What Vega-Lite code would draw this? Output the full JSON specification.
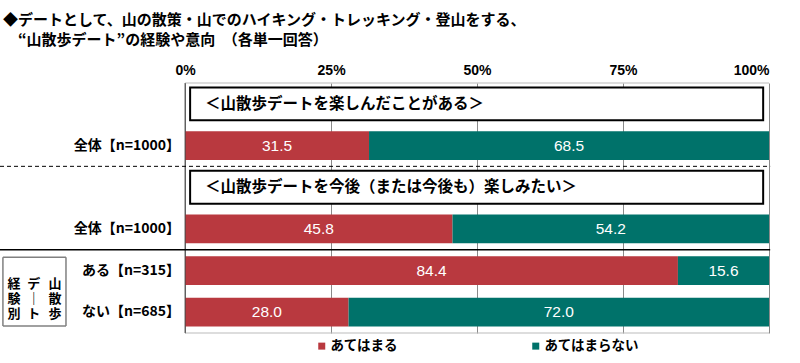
{
  "$schema": "https://vega.github.io/schema/vega-lite/v6.json",
  "autosize": {"type": "none"},
  "padding": {"left": 0, "top": 83, "right": 31, "bottom": 30},
  "width": 769,
  "height": 250,
  "background": "white",
  "title": {
    "text": ["◆デートとして、山の散策・山でのハイキング・トレッキング・登山をする、", "\u200b\u3000“山散歩デート”の経験や意向　（各単一回答）"],
    "anchor": "start",
    "frame": "group",
    "dx": 3,
    "offset": 15,
    "font": "Noto Sans CJK JP",
    "fontSize": 15,
    "fontWeight": "bold",
    "lineHeight": 20,
    "color": "black"
  },
  "datasets": {
    "bars": [
      {"row": "b1", "cat": "あてはまる", "value": 31.5},
      {"row": "b1", "cat": "あてはまらない", "value": 68.5},
      {"row": "b2", "cat": "あてはまる", "value": 45.8},
      {"row": "b2", "cat": "あてはまらない", "value": 54.2},
      {"row": "b3", "cat": "あてはまる", "value": 84.4},
      {"row": "b3", "cat": "あてはまらない", "value": 15.6},
      {"row": "b4", "cat": "あてはまる", "value": 28.0},
      {"row": "b4", "cat": "あてはまらない", "value": 72.0}
    ],
    "rows": [
      {"row": "b1", "label": "全体【n=1000】"},
      {"row": "b2", "label": "全体【n=1000】"},
      {"row": "b3", "label": "ある【n=315】"},
      {"row": "b4", "label": "ない【n=685】"}
    ],
    "headers": [
      {"row": "h1", "text": "＜山散歩デートを楽しんだことがある＞"},
      {"row": "h2", "text": "＜山散歩デートを今後（または今後も）楽しみたい＞"}
    ]
  },
  "layer": [
    {
      "data": {"name": "bars"},
      "mark": {"type": "bar", "height": {"band": 0.69}},
      "encoding": {
        "y": {
          "field": "row", "type": "nominal",
          "scale": {"domain": ["h1", "b1", "h2", "b2", "b3", "b4"], "paddingInner": 0, "paddingOuter": 0},
          "axis": null
        },
        "x": {
          "field": "value", "type": "quantitative", "stack": "zero",
          "scale": {"domain": [-31.7, 100], "nice": false, "zero": false},
          "axis": {
            "orient": "top", "title": null, "values": [0, 25, 50, 75, 100], "labelExpr": "datum.value + '%'",
            "domain": false, "ticks": false, "grid": true, "gridColor": "#8a8a8a", "gridWidth": 1,
            "labelFont": "Liberation Sans", "labelFontWeight": "bold", "labelFontSize": 14, "labelColor": "black", "labelPadding": 6
          }
        },
        "color": {
          "field": "cat", "type": "nominal",
          "scale": {"domain": ["あてはまる", "あてはまらない"], "range": ["#B9393F", "#00726A"]},
          "legend": {
            "title": null, "orient": "none", "legendX": 315, "legendY": 256, "direction": "horizontal",
            "symbolType": "square", "symbolSize": 49, "symbolStrokeWidth": 0, "labelOffset": 2,
            "labelFont": "Noto Sans CJK JP", "labelFontWeight": "bold", "labelFontSize": 13.5, "labelColor": "black",
            "columnPadding": 131
          }
        },
        "order": {"field": "cat", "sort": "descending"}
      }
    },
    {
      "data": {"name": "bars"},
      "mark": {"type": "text", "color": "white", "font": "Liberation Sans", "fontSize": 15.5, "baseline": "middle", "align": "center"},
      "encoding": {
        "y": {"field": "row", "type": "nominal"},
        "x": {"field": "value", "type": "quantitative", "stack": "zero", "bandPosition": 0.5},
        "text": {"field": "value", "type": "quantitative", "format": ".1f"},
        "order": {"field": "cat", "sort": "descending"}
      }
    },
    {
      "data": {"name": "rows"},
      "mark": {"type": "text", "align": "right", "baseline": "middle", "font": "Noto Sans CJK JP", "fontWeight": "bold", "fontSize": 14, "color": "black"},
      "encoding": {
        "y": {"field": "row", "type": "nominal"},
        "x": {"datum": -0.86, "type": "quantitative"},
        "text": {"field": "label", "type": "nominal"}
      }
    },
    {
      "data": {"name": "headers"},
      "mark": {"type": "bar", "height": {"band": 0.79}, "fill": "white", "stroke": "black", "strokeWidth": 2},
      "encoding": {
        "y": {"field": "row", "type": "nominal"},
        "x": {"datum": 0.86, "type": "quantitative"},
        "x2": {"datum": 99.0}
      }
    },
    {
      "data": {"name": "headers"},
      "mark": {"type": "text", "align": "left", "baseline": "middle", "font": "Noto Sans CJK JP", "fontWeight": "bold", "fontSize": 15.5, "color": "black"},
      "encoding": {
        "y": {"field": "row", "type": "nominal"},
        "x": {"datum": 3.4, "type": "quantitative"},
        "text": {"field": "text", "type": "nominal"}
      }
    },
    {
      "data": {"values": [{}]},
      "mark": {"type": "rule", "color": "#bbbbbb", "strokeWidth": 1},
      "encoding": {
        "y": {"datum": "h1", "type": "nominal", "bandPosition": 0},
        "x": {"datum": 0, "type": "quantitative"},
        "x2": {"datum": 100}
      }
    },
    {
      "data": {"values": [{}]},
      "mark": {"type": "rule", "color": "#bbbbbb", "strokeWidth": 1},
      "encoding": {
        "y": {"datum": "b4", "type": "nominal", "bandPosition": 1},
        "x": {"datum": 0, "type": "quantitative"},
        "x2": {"datum": 100}
      }
    },
    {
      "data": {"values": [{}]},
      "mark": {"type": "rule", "color": "#444444", "strokeWidth": 1},
      "encoding": {
        "x": {"datum": 0, "type": "quantitative"}
      }
    },
    {
      "data": {"values": [{}]},
      "mark": {"type": "rule", "color": "black", "strokeWidth": 1, "strokeDash": [4, 3]},
      "encoding": {
        "y": {"datum": "h2", "type": "nominal", "bandPosition": 0},
        "x": {"datum": -31.7, "type": "quantitative"},
        "x2": {"datum": 100.2}
      }
    },
    {
      "data": {"values": [{}]},
      "mark": {"type": "rule", "color": "black", "strokeWidth": 1.5},
      "encoding": {
        "y": {"datum": "b3", "type": "nominal", "bandPosition": 0},
        "x": {"datum": -31.7, "type": "quantitative"},
        "x2": {"datum": 100.2}
      }
    },
    {
      "data": {"values": [{}]},
      "mark": {"type": "rule", "color": "#808080", "strokeWidth": 1.5},
      "encoding": {
        "y": {"datum": "b3", "type": "nominal", "bandPosition": 0.18},
        "x": {"datum": -31.2, "type": "quantitative"},
        "x2": {"datum": -20.4}
      }
    },
    {
      "data": {"values": [{}]},
      "mark": {"type": "rule", "color": "#808080", "strokeWidth": 1.5},
      "encoding": {
        "y": {"datum": "b4", "type": "nominal", "bandPosition": 0.83},
        "x": {"datum": -31.2, "type": "quantitative"},
        "x2": {"datum": -20.4}
      }
    },
    {
      "data": {"values": [{}]},
      "mark": {"type": "rule", "color": "#808080", "strokeWidth": 1.5},
      "encoding": {
        "x": {"datum": -31.2, "type": "quantitative"},
        "y": {"datum": "b3", "type": "nominal", "bandPosition": 0.18},
        "y2": {"datum": "b4", "bandPosition": 0.83}
      }
    },
    {
      "data": {"values": [{}]},
      "mark": {"type": "rule", "color": "#808080", "strokeWidth": 1.5},
      "encoding": {
        "x": {"datum": -20.4, "type": "quantitative"},
        "y": {"datum": "b3", "type": "nominal", "bandPosition": 0.18},
        "y2": {"datum": "b4", "bandPosition": 0.83}
      }
    },
    {
      "data": {"values": [{}]},
      "mark": {"type": "text", "text": ["山", "散", "歩"], "align": "center", "baseline": "middle", "lineHeight": 15, "dy": -7, "font": "Noto Sans CJK JP", "fontWeight": "bold", "fontSize": 13, "color": "black"},
      "encoding": {
        "y": {"datum": "b4", "type": "nominal", "bandPosition": 0},
        "x": {"datum": -22.3, "type": "quantitative"}
      }
    },
    {
      "data": {"values": [{}]},
      "mark": {"type": "text", "text": ["デ", "｜", "ト"], "align": "center", "baseline": "middle", "lineHeight": 15, "dy": -7, "font": "Noto Sans CJK JP", "fontWeight": "bold", "fontSize": 13, "color": "black"},
      "encoding": {
        "y": {"datum": "b4", "type": "nominal", "bandPosition": 0},
        "x": {"datum": -25.9, "type": "quantitative"}
      }
    },
    {
      "data": {"values": [{}]},
      "mark": {"type": "text", "text": ["経", "験", "別"], "align": "center", "baseline": "middle", "lineHeight": 15, "dy": -7, "font": "Noto Sans CJK JP", "fontWeight": "bold", "fontSize": 13, "color": "black"},
      "encoding": {
        "y": {"datum": "b4", "type": "nominal", "bandPosition": 0},
        "x": {"datum": -29.3, "type": "quantitative"}
      }
    }
  ],
  "config": {
    "view": {"stroke": null}
  }
}
